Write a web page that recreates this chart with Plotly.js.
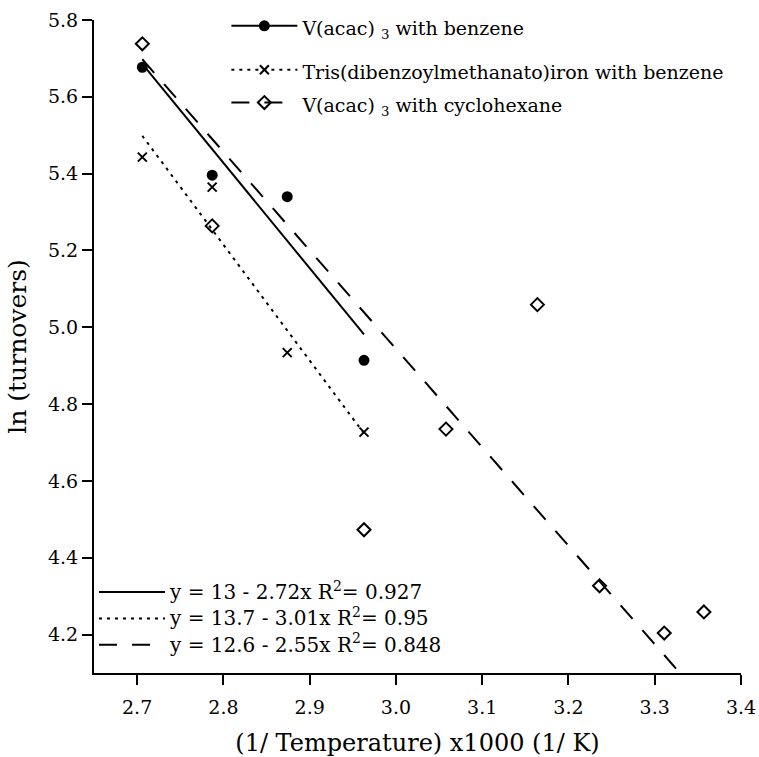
<!DOCTYPE html>
<html>
<head>
<meta charset="utf-8">
<script src="https://cdn.plot.ly/plotly-3.0.1.min.js"></script>
<style>html,body{margin:0;padding:0;background:#fff;}#chart{width:759px;height:757px;}</style>
</head>
<body>
<div id="chart"></div>
<script>
// 1/T x1000 (1/K)
var xBenzene = [2.706, 2.787, 2.874, 2.963];
var yVacacBenzene = [5.677, 5.396, 5.340, 4.914];
var yIronBenzene = [5.443, 5.365, 4.934, 4.727];
var xCyclohexane = [2.706, 2.787, 2.963, 3.058, 3.164, 3.236, 3.311, 3.357];
var yVacacCyclohexane = [5.738, 5.264, 4.473, 4.735, 5.059, 4.327, 4.204, 4.259];

// fitted lines (intercept, slope) as drawn
var fitIntercept = [13.10, 13.657, 12.636];
var fitSlope = [-2.74, -3.015, -2.564];
var fitLabels = [
  "y = 13 - 2.72x R<sup>2</sup>= 0.927",
  "y = 13.7 - 3.01x R<sup>2</sup>= 0.95",
  "y = 12.6 - 2.55x R<sup>2</sup>= 0.848"
];
var seriesNames = [
  "V(acac) <sub>3</sub> with benzene",
  "Tris(dibenzoylmethanato)iron with benzene",
  "V(acac) <sub>3</sub> with cyclohexane"
];
var xTickVals = [2.7, 2.8, 2.9, 3.0, 3.1, 3.2, 3.3, 3.4];
var yTickVals = [4.2, 4.4, 4.6, 4.8, 5.0, 5.2, 5.4, 5.6, 5.8];

var FONT = "DejaVu Serif";
var dashes = ["solid", "3px,5px", "18px,15px"];
var symbols = ["circle", "x-thin-open", "diamond-open"];
var msizes = [9, 9, 10];
var xsets = [xBenzene, xBenzene, xCyclohexane];
var ysets = [yVacacBenzene, yIronBenzene, yVacacCyclohexane];
var groups = ["g1", "g2", "g2"];

function fitLine(i) {
  var xs = xsets[i];
  var x0 = Math.min.apply(null, xs), x1 = Math.max.apply(null, xs);
  return {x: [x0, x1], y: [fitIntercept[i] + fitSlope[i] * x0, fitIntercept[i] + fitSlope[i] * x1]};
}
function sized(t, px) { return '<span style="font-size:' + px + 'px">' + t + '</span>'; }

var traces = [];
// fit lines (legend 2)
for (var i = 0; i < 3; i++) {
  var f = fitLine(i);
  traces.push({
    x: f.x, y: f.y, mode: "lines", type: "scatter",
    line: {color: "#000", width: 2, dash: dashes[i]},
    name: sized(fitLabels[i], 20), legend: "legend2", showlegend: true, hoverinfo: "skip"
  });
}
// data markers
for (var i = 0; i < 3; i++) {
  traces.push({
    x: xsets[i], y: ysets[i], mode: "markers", type: "scatter",
    marker: {symbol: symbols[i], size: msizes[i], color: "#000", line: {color: "#000", width: 2}},
    showlegend: false, name: seriesNames[i]
  });
}
// legend entries (line + marker)
for (var i = 0; i < 3; i++) {
  traces.push({
    x: [null], y: [null], mode: "lines+markers", type: "scatter",
    line: {color: "#000", width: 2, dash: dashes[i]},
    marker: {symbol: symbols[i], size: msizes[i], color: "#000", line: {color: "#000", width: 2}},
    name: sized(seriesNames[i], 19), legend: "legend", legendgroup: groups[i], showlegend: true
  });
}

var layout = {
  width: 759, height: 757,
  margin: {l: 94, r: 18, t: 20, b: 84, autoexpand: false},
  paper_bgcolor: "#fff", plot_bgcolor: "#fff",
  font: {family: FONT, size: 19, color: "#000"},
  showlegend: true,
  xaxis: {
    range: [2.65, 3.4], tickvals: xTickVals, ticktext: xTickVals.map(function(v){return v.toFixed(1);}),
    showline: true, linecolor: "#000", linewidth: 2, ticks: "outside", ticklen: 10, tickwidth: 2, tickcolor: "#000",
    ticklabelstandoff: 6,
    showgrid: false, zeroline: false, tickfont: {family: FONT, size: 19},
    title: {text: "(1/ Temperature) x1000 (1/ K)", font: {family: FONT, size: 24}, standoff: 22}
  },
  yaxis: {
    range: [4.1, 5.8], tickvals: yTickVals, ticktext: yTickVals.map(function(v){return v.toFixed(1);}),
    showline: true, linecolor: "#000", linewidth: 2, ticks: "outside", ticklen: 10, tickwidth: 2, tickcolor: "#000",
    showgrid: false, zeroline: false, tickfont: {family: FONT, size: 19},
    title: {text: "ln (turnovers)", font: {family: FONT, size: 25}, standoff: 14}
  },
  legend: {
    x: 0.2046, y: 1.024, xanchor: "left", yanchor: "top", bgcolor: "rgba(0,0,0,0)",
    font: {family: FONT, size: 23}, itemwidth: 66, tracegroupgap: 11, traceorder: "grouped"
  },
  legend2: {
    x: 0, y: 0.014, xanchor: "left", yanchor: "bottom", bgcolor: "rgba(0,0,0,0)",
    font: {family: FONT, size: 18}, itemwidth: 66, tracegroupgap: 0
  }
};

Plotly.newPlot("chart", traces, layout, {displayModeBar: false, staticPlot: true});
</script>
</body>
</html>
